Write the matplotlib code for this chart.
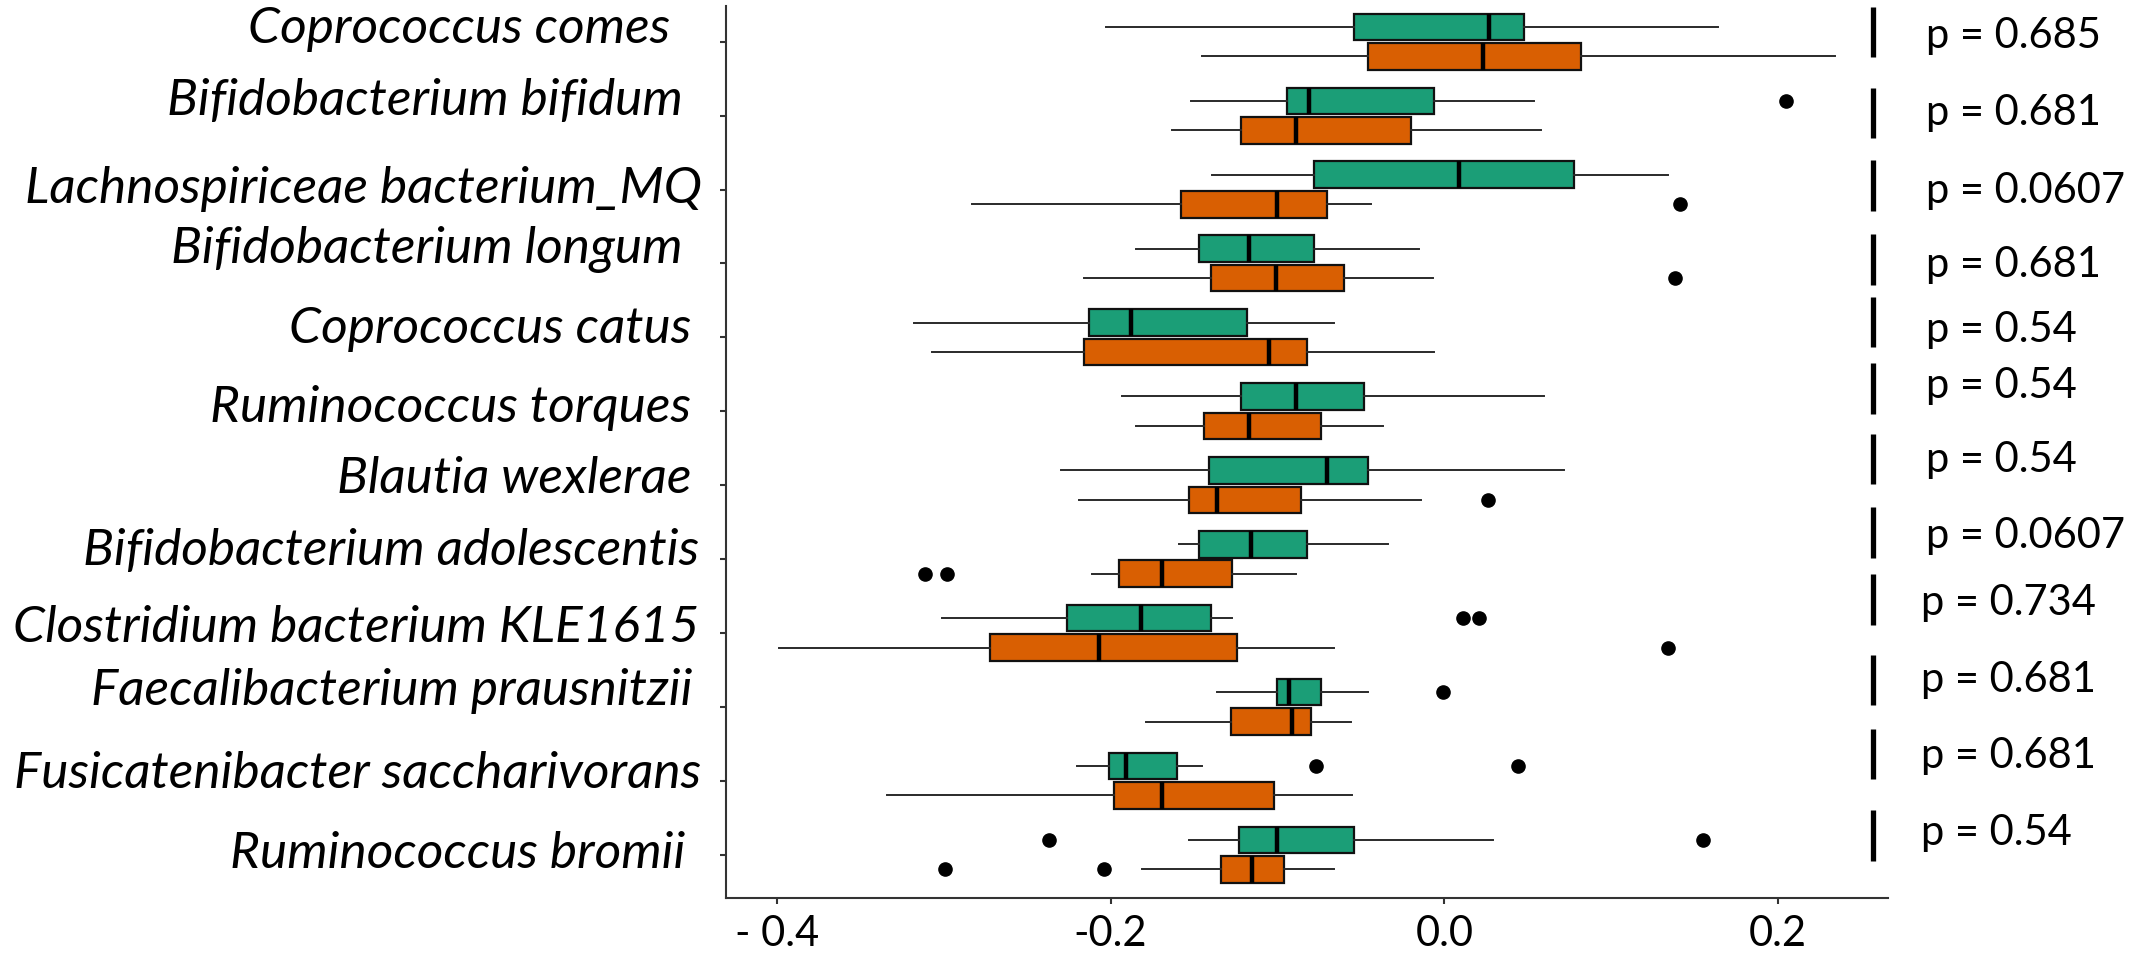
import matplotlib
matplotlib.use('Agg')
import matplotlib.pyplot as plt

# ---- datos ----
species = [
    'Coprococcus comes', 'Bifidobacterium bifidum', 'Lachnospiriceae bacterium_MQ',
    'Bifidobacterium longum', 'Coprococcus catus', 'Ruminococcus torques',
    'Blautia wexlerae', 'Bifidobacterium adolescentis', 'Clostridium bacterium KLE1615',
    'Faecalibacterium prausnitzii', 'Fusicatenibacter saccharivorans', 'Ruminococcus bromii',
]

green_lo = [-0.203, -0.152, -0.139, -0.185, -0.318, -0.193, -0.230, -0.159, -0.301, -0.136, -0.220, -0.153]
green_q1 = [-0.054, -0.094, -0.078, -0.147, -0.213, -0.122, -0.141, -0.147, -0.226, -0.100, -0.201, -0.123]
green_med = [0.027, -0.081, 0.009, -0.117, -0.188, -0.089, -0.070, -0.116, -0.182, -0.093, -0.191, -0.100]
green_q3 = [0.048, -0.006, 0.078, -0.078, -0.118, -0.048, -0.046, -0.082, -0.140, -0.074, -0.160, -0.054]
green_hi = [0.164, 0.054, 0.134, -0.015, -0.066, 0.060, 0.072, -0.034, -0.127, -0.046, -0.145, 0.029]
green_out = [[], [0.205], [], [], [], [], [], [], [0.011, 0.021], [-0.001], [-0.077, 0.044], [-0.237, 0.155]]

orange_lo = [-0.145, -0.163, -0.283, -0.216, -0.307, -0.185, -0.219, -0.211, -0.399, -0.179, -0.334, -0.181]
orange_q1 = [-0.046, -0.122, -0.158, -0.140, -0.216, -0.144, -0.153, -0.195, -0.272, -0.128, -0.198, -0.134]
orange_med = [0.023, -0.089, -0.100, -0.101, -0.105, -0.117, -0.136, -0.169, -0.207, -0.091, -0.169, -0.115]
orange_q3 = [0.082, -0.020, -0.070, -0.060, -0.082, -0.074, -0.086, -0.127, -0.124, -0.080, -0.102, -0.096]
orange_hi = [0.234, 0.058, -0.044, -0.007, -0.006, -0.037, -0.014, -0.089, -0.066, -0.056, -0.055, -0.066]
orange_out = [[], [], [0.141], [0.138], [], [], [0.026], [-0.311, -0.298], [0.134], [], [], [-0.299, -0.204]]

p_values = ['p = 0.685', 'p = 0.681', 'p = 0.0607', 'p = 0.681', 'p = 0.54', 'p = 0.54',
            'p = 0.54', 'p = 0.0607', 'p = 0.734', 'p = 0.681', 'p = 0.681', 'p = 0.54']

x_ticks = [-0.4, -0.2, 0.0, 0.2]
x_tick_labels = ['- 0.4', '-0.2', '0.0', '0.2']

# ---- maquetación (posiciones de etiquetas/barras, a mano como en el original) ----
label_base = [0.022, 0.992, 2.183, 2.995, 4.077, 5.146, 6.111, 7.081, 8.119, 8.976, 10.103, 11.183]
label_right = [-0.4641, -0.4563, -0.4446, -0.4563, -0.4515, -0.4515,
               -0.4511, -0.4467, -0.4467, -0.4505, -0.4451, -0.4551]
bar_mid = [-0.131, 0.965, 1.946, 2.947, 3.793, 4.693, 5.647, 6.641, 7.548, 8.637, 9.639, 10.741]
p_base = [0.085, 1.127, 2.183, 3.184, 4.063, 4.822, 5.823, 6.851, 7.758, 8.800, 9.828, 10.870]
p_x = [0.2885] * 8 + [0.2857] * 4

GREEN = '#1B9E77'
ORANGE = '#D95F02'
FONT = 'Lato'


def make_stats(lo, q1, med, q3, hi, out):
    return [dict(whislo=a, q1=b, med=c, q3=d, whishi=e, fliers=f)
            for a, b, c, d, e, f in zip(lo, q1, med, q3, hi, out)]


fig = plt.figure(figsize=(21.51, 9.55), dpi=100)
ax = fig.add_axes([0.3375, 0.0597, 0.5402, 0.934])

n = len(species)
pos = list(range(n))

for stats, offset, color in [
    (make_stats(green_lo, green_q1, green_med, green_q3, green_hi, green_out), -0.2, GREEN),
    (make_stats(orange_lo, orange_q1, orange_med, orange_q3, orange_hi, orange_out), 0.2, ORANGE),
]:
    ax.bxp(stats, positions=[p + offset for p in pos], widths=0.36,
           orientation='horizontal', patch_artist=True, showcaps=False,
           boxprops=dict(facecolor=color, edgecolor='#111111', linewidth=1.6),
           medianprops=dict(color='black', linewidth=3.2, solid_capstyle='butt'),
           whiskerprops=dict(color='#2a2a2a', linewidth=1.4),
           flierprops=dict(marker='o', markerfacecolor='black', markeredgecolor='black',
                           markersize=9.5))

ax.set_xlim(-0.4305, 0.2659)
ax.set_ylim(11.587, -0.483)

ax.set_yticks(pos)
ax.set_yticklabels([''] * n)
ax.set_xticks(x_ticks)
ax.set_xticklabels(x_tick_labels, fontsize=30, family=FONT)

for side in ['top', 'right']:
    ax.spines[side].set_visible(False)
for side in ['left', 'bottom']:
    ax.spines[side].set_color('#333333')
    ax.spines[side].set_linewidth(1.5)
ax.tick_params(axis='both', direction='out', length=4.5, width=1.5, color='#333333')
ax.tick_params(axis='x', pad=8)

# nombres de especie en cursiva
for name, yb, xr in zip(species, label_base, label_right):
    ax.text(xr, yb, name, ha='right', va='baseline', fontsize=37,
            family=FONT, style='italic', clip_on=False)

# barras y valores p
for ym, yb, xp, txt in zip(bar_mid, p_base, p_x, p_values):
    ax.plot([0.2569, 0.2569], [ym - 0.342, ym + 0.342], color='black',
            linewidth=3.8, solid_capstyle='butt', clip_on=False)
    ax.text(xp, yb, txt, ha='left', va='baseline', fontsize=30, family=FONT,
            clip_on=False)

fig.savefig('out.png', dpi=100)
